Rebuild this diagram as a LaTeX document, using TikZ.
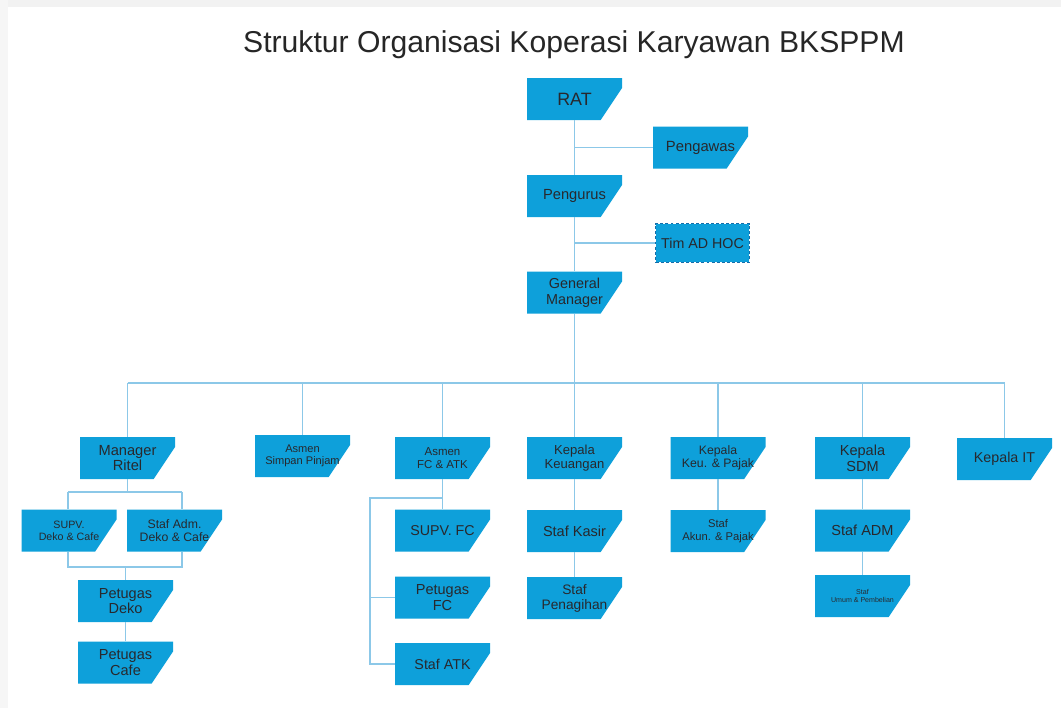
\documentclass[tikz,border=0pt]{standalone}
\usepackage{fontspec}
\setmainfont{Liberation Sans}
\definecolor{boxc}{RGB}{14,160,218}
\definecolor{linec}{RGB}{140,200,232}
\definecolor{txtc}{RGB}{40,40,45}
\definecolor{dashc}{RGB}{20,110,170}
\newcommand\fz[2]{\fontsize{#1}{#2}\selectfont}
\begin{document}
\begin{tikzpicture}[x=0.75pt,y=-0.75pt,
  cutbox/.style={minimum width=71.25pt, minimum height=31.5pt, inner sep=0pt, align=center, text=txtc,
    path picture={\fill[boxc] (path picture bounding box.south west) -- (path picture bounding box.north west)
      -- (path picture bounding box.north east) -- ([yshift=-7.5pt]path picture bounding box.north east)
      -- ([xshift=-16pt]path picture bounding box.south east) -- cycle;}},
  dashbox/.style={minimum width=70pt, minimum height=29pt, inner sep=0pt, align=center, text=txtc,
    fill=boxc, draw=dashc, dash pattern=on 2.2pt off 1.6pt, line width=0.9pt},
  conn/.style={draw=linec, line width=1.1pt}]
\useasboundingbox (0,0) rectangle (1061,708);
\fill[white] (0,0) rectangle (1061,708);
\fill[gray!10] (0,0) rectangle (1061,7);
\fill[gray!7] (0,0) rectangle (8,708);

\node[font=\fz{22.6}{24}, text=black!85, anchor=base] (title) at (574,52) {Struktur Organisasi Koperasi Karyawan BKSPPM};

% top chain
\node[cutbox, font=\fz{13.4}{14.5}] (rat) at (574.5,99) {RAT};
\node[cutbox, font=\fz{11.1}{12}] (pengawas) at (700.5,147.5) {Pengawas};
\node[cutbox, font=\fz{11}{12}] (pengurus) at (574.5,196) {Pengurus};
\node[dashbox, font=\fz{10.7}{11.5}] (tim) at (702.5,243) {Tim AD HOC};
\node[cutbox, font=\fz{10.8}{11.7}] (gm) at (574.5,292.5) {General\\Manager};

% second row
\node[cutbox, font=\fz{11}{11.8}] (mr) at (127.5,458) {Manager\\Ritel};
\node[cutbox, font=\fz{8.3}{9.2}] (asp) at (302.5,456) {Asmen\\Simpan Pinjam};
\node[cutbox, font=\fz{8.6}{9.5}] (asfc) at (442.5,458) {Asmen\\FC \& ATK};
\node[cutbox, font=\fz{9.8}{10.6}] (kk) at (574.5,458) {Kepala\\Keuangan};
\node[cutbox, font=\fz{9.2}{10}] (kp) at (718,458) {Kepala\\Keu. \& Pajak};
\node[cutbox, font=\fz{10.9}{11.8}] (sdm) at (862.5,458) {Kepala\\SDM};
\node[cutbox, font=\fz{10.7}{11.5}] (it) at (1004.5,459) {Kepala IT};

% Ritel branch
\node[cutbox, font=\fz{8}{9}] (supv) at (69,530.5) {SUPV.\\Deko \& Cafe};
\node[cutbox, font=\fz{9.2}{10}] (stafadm) at (174.5,530.5) {Staf Adm.\\Deko \& Cafe};
\node[cutbox, font=\fz{10.9}{11.6}] (pdeko) at (125.5,601) {Petugas\\Deko};
\node[cutbox, font=\fz{10.9}{11.6}] (pcafe) at (125.5,662.5) {Petugas\\Cafe};

% FC branch
\node[cutbox, font=\fz{10.7}{11.5}] (supvfc) at (442.5,530.5) {SUPV. FC};
\node[cutbox, font=\fz{10.9}{11.6}] (petfc) at (442.5,597.5) {Petugas\\FC};
\node[cutbox, font=\fz{10.7}{11.5}] (stafatk) at (442.5,664) {Staf ATK};

% Keuangan branch
\node[cutbox, font=\fz{10.9}{11.6}] (kasir) at (574.5,531) {Staf Kasir};
\node[cutbox, font=\fz{10.3}{11.2}] (penagihan) at (574.5,598) {Staf\\Penagihan};

% Pajak branch
\node[cutbox, font=\fz{8.4}{9.5}] (akun) at (718,531) {Staf\\Akun. \& Pajak};

% SDM branch
\node[cutbox, font=\fz{10.9}{11.6}] (adm) at (862.5,530.5) {Staf ADM};
\node[cutbox, font=\fz{5.3}{6.6}] (umum) at (862.5,596) {Staf\\Umum \& Pembelian};

% connectors top
\draw[conn] (rat) -- (pengurus);
\draw[conn] (pengurus) -- (gm);
\draw[conn] (rat |- pengawas) -- (pengawas);
\draw[conn] (pengurus |- tim) -- (tim);

% bus
\coordinate (bus) at (574.5,383);
\draw[conn] (gm) -- (bus);
\draw[conn] (mr |- bus) -- (it |- bus);
\foreach \n in {mr,asp,asfc,kk,kp,sdm,it} \draw[conn] (\n |- bus) -- (\n);

% Ritel sub
\coordinate (rj) at (127.5,492);
\coordinate (rjl) at (68,492);
\coordinate (rjr) at (182,492);
\draw[conn] (mr) -- (rj);
\draw[conn] (rjl) -- (rjr);
\draw[conn] (rjl) -- (rjl |- supv.north);
\draw[conn] (rjr) -- (rjr |- stafadm.north);
\coordinate (dl) at (68,567);
\coordinate (dr) at (182,567);
\coordinate (dm) at (125.5,567);
\draw[conn] (dl |- supv.south) -- (dl) -- (dr) -- (dr |- stafadm.south);
\draw[conn] (dm) -- (pdeko);
\draw[conn] (pdeko) -- (pcafe);

% FC sub
\draw[conn] (asfc) -- (supvfc);
\coordinate (fj) at (442.5,498);
\coordinate (fl) at (370,498);
\draw[conn] (fj) -- (fl) -- (fl |- stafatk) -- (stafatk);
\draw[conn] (fl |- petfc) -- (petfc);

% other subs
\draw[conn] (kk) -- (kasir);
\draw[conn] (kasir) -- (penagihan);
\draw[conn] (kp) -- (akun);
\draw[conn] (sdm) -- (adm);
\draw[conn] (adm) -- (umum);
\end{tikzpicture}
\end{document}
